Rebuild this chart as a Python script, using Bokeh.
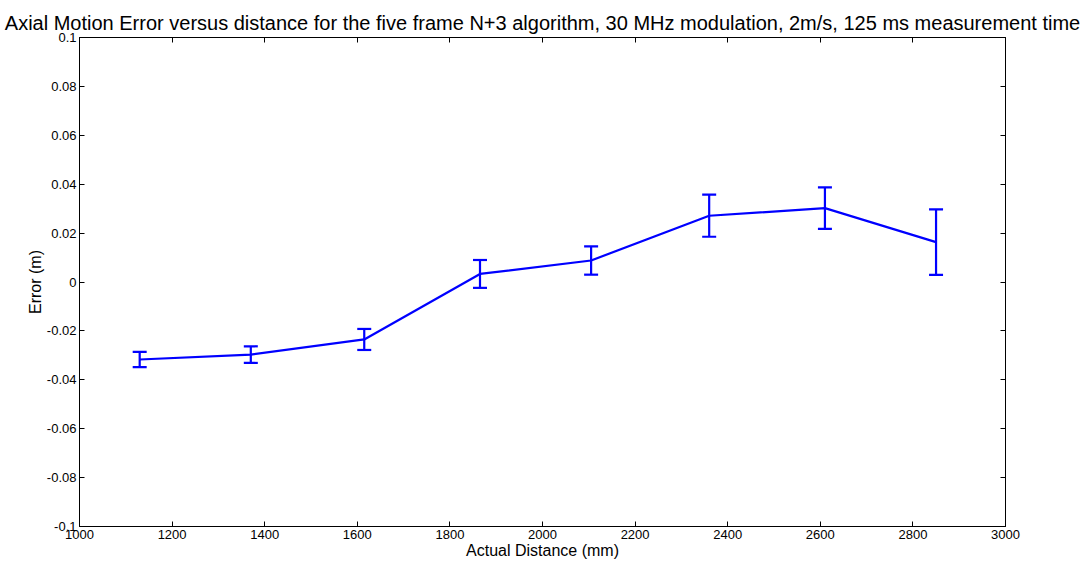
from bokeh.plotting import figure
from bokeh.models import ColumnDataSource, Whisker, TeeHead, LinearAxis, FixedTicker, CustomJSTickFormatter, Range1d
from bokeh.embed import file_html
from bokeh.resources import INLINE

distance = [1130, 1370, 1615, 1865, 2105, 2360, 2610, 2850]
error = [-0.0317, -0.0297, -0.0235, 0.0033, 0.0088, 0.0271, 0.0302, 0.0163]
spread = [0.0031, 0.0034, 0.0043, 0.0057, 0.0058, 0.0086, 0.0085, 0.0134]
x_ticks = [1000, 1200, 1400, 1600, 1800, 2000, 2200, 2400, 2600, 2800, 3000]
y_ticks = [-0.1, -0.08, -0.06, -0.04, -0.02, 0, 0.02, 0.04, 0.06, 0.08, 0.1]

src = ColumnDataSource(dict(
    x=distance, y=error,
    lo=[e - s for e, s in zip(error, spread)],
    hi=[e + s for e, s in zip(error, spread)],
))

FONT = "Liberation Sans"
p = figure(width=1082, height=563, output_backend="svg", toolbar_location=None,
           x_range=Range1d(1000, 3000), y_range=Range1d(-0.1, 0.1),
           x_axis_location=None, y_axis_location=None,
           min_border_left=79, min_border_right=77, min_border_top=37, min_border_bottom=37)
p.title.text = "Axial Motion Error versus distance for the five frame N+3 algorithm, 30 MHz modulation, 2m/s, 125 ms measurement time"
p.title.text_font = FONT
p.title.text_font_size = "20px"
p.title.text_font_style = "normal"
p.title.text_color = "black"
p.title.align = "center"
p.title.standoff = 8
p.xgrid.visible = False
p.ygrid.visible = False
p.outline_line_color = "black"
p.outline_line_width = 1

fmt = CustomJSTickFormatter(code="return String(Number(tick.toFixed(2)));")
blank = CustomJSTickFormatter(code="return '';")

def style(ax, labels=True):
    ax.major_tick_in = 5
    ax.major_tick_out = 0
    ax.minor_tick_in = 0
    ax.minor_tick_out = 0
    ax.axis_line_color = "black"
    ax.major_tick_line_color = "black"
    ax.major_label_text_font = FONT
    ax.major_label_text_font_size = "13px"
    ax.major_label_text_color = "black"
    ax.major_label_standoff = 3 if labels else 0
    ax.axis_label_text_font = FONT
    ax.axis_label_text_font_size = "16px"
    ax.axis_label_text_font_style = "normal"
    ax.axis_label_text_color = "black"
    ax.axis_label_standoff = 0

xb = LinearAxis(ticker=FixedTicker(ticks=x_ticks), axis_label="Actual Distance (mm)")
style(xb)
p.add_layout(xb, "below")
yl = LinearAxis(ticker=FixedTicker(ticks=y_ticks), formatter=fmt, axis_label="Error (m)")
style(yl)
p.add_layout(yl, "left")
xt = LinearAxis(ticker=FixedTicker(ticks=x_ticks), formatter=blank)
style(xt, False)
p.add_layout(xt, "above")
yr = LinearAxis(ticker=FixedTicker(ticks=y_ticks), formatter=blank)
style(yr, False)
p.add_layout(yr, "right")

p.line("x", "y", source=src, line_color="#0000ff", line_width=2.2)
w = Whisker(source=src, base="x", lower="lo", upper="hi",
            line_color="#0000ff", line_width=2.2,
            upper_head=TeeHead(size=14, line_color="#0000ff", line_width=2.2),
            lower_head=TeeHead(size=14, line_color="#0000ff", line_width=2.2))
p.add_layout(w)

open("out.html", "w").write(file_html(p, INLINE))
